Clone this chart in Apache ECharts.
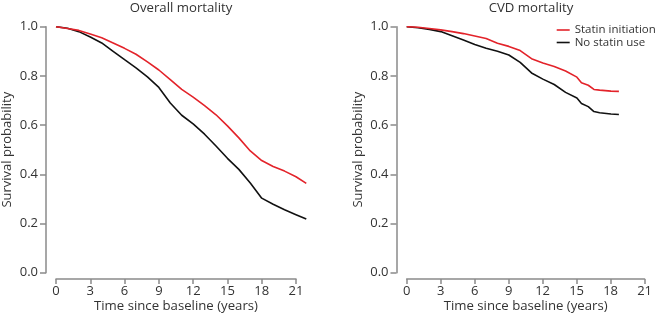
<!DOCTYPE html>
<html>
<head>
<meta charset="utf-8">
<script src="https://cdn.jsdelivr.net/npm/echarts@6/dist/echarts.min.js"></script>
<style>
  html, body { margin: 0; padding: 0; background: #fff; }
  #chart { width: 655px; height: 318px; }
</style>
</head>
<body>
<div id="chart"></div>
<script>
// Overall mortality (left panel)
const overallTime = [0, 1, 2, 3, 4, 5, 6, 7, 8, 9, 10, 11, 12, 13, 14, 15, 16, 17, 18, 19, 20, 21, 21.9];
const overallStatin = [1.0, 0.993, 0.985, 0.970, 0.955, 0.934, 0.912, 0.888, 0.857, 0.824, 0.785, 0.745, 0.714, 0.679, 0.642, 0.597, 0.548, 0.495, 0.456, 0.432, 0.413, 0.390, 0.363];
const overallNoStatin = [1.0, 0.994, 0.980, 0.958, 0.934, 0.900, 0.866, 0.833, 0.796, 0.753, 0.690, 0.640, 0.605, 0.563, 0.515, 0.465, 0.420, 0.365, 0.303, 0.278, 0.256, 0.236, 0.218];

// CVD mortality (right panel)
const cvdTime = [0, 1, 2, 3, 4, 5, 6, 7, 8, 9, 10, 11, 12, 13, 14, 15, 15.4, 16, 16.5, 17, 18, 18.7];
const cvdStatin = [1.0, 0.998, 0.993, 0.987, 0.980, 0.972, 0.962, 0.952, 0.933, 0.920, 0.903, 0.870, 0.852, 0.838, 0.820, 0.795, 0.772, 0.762, 0.745, 0.742, 0.738, 0.737];
const cvdNoStatin = [1.0, 0.996, 0.989, 0.980, 0.963, 0.946, 0.928, 0.912, 0.900, 0.885, 0.855, 0.812, 0.787, 0.765, 0.733, 0.710, 0.688, 0.675, 0.655, 0.650, 0.645, 0.643];

const xTicks = [0, 3, 6, 9, 12, 15, 18, 21];
const yTicks = [0, 0.2, 0.4, 0.6, 0.8, 1.0];
const seriesNames = ['Statin initiation', 'No statin use'];
const panelTitles = ['Overall mortality', 'CVD mortality'];

const RED = '#e3232a';
const BLACK = '#111111';
const AXIS = '#8a8a8a';
const TEXT = '#333333';
const FONT = 'Open Sans';

const xMin = xTicks[0];
const xMax = xTicks[xTicks.length - 1];
const yMin = yTicks[0];
const yMax = yTicks[yTicks.length - 1];

const pairs = (t, v) => t.map((x, i) => [x, v[i]]);

const chart = echarts.init(document.getElementById('chart'), null, { renderer: 'canvas' });

// R-style axes: y axis sits left of x=0, x axis sits below y=0,
// each spanning only its tick range; dataMax lets curves run past 21
const panels = [
  { plotLeft: 56, plotWidth: 240, axisLeft: 46, axisBottom: 282, titleX: 176, dataMax: 23 },
  { plotLeft: 406.7, plotWidth: 238.3, axisLeft: 396.5, axisBottom: 282.5, titleX: 526, dataMax: 20 }
];
const plotTop = 26.7;
const plotHeight = 246;

const grids = [];
const xAxes = [];
const yAxes = [];
const hidden = { show: false };

panels.forEach(p => {
  // y axis grid
  grids.push({ left: p.axisLeft, top: plotTop, width: 10, height: plotHeight });
  xAxes.push({ type: 'value', gridIndex: grids.length - 1, min: 0, max: 1, show: false });
  yAxes.push({
    type: 'value',
    gridIndex: grids.length - 1,
    min: yMin,
    max: yMax,
    interval: 0.2,
    name: 'Survival probability',
    nameLocation: 'middle',
    nameRotate: 90,
    nameGap: 32,
    nameMoveOverlap: false,
    nameTextStyle: { fontFamily: FONT, fontSize: 13, color: TEXT },
    axisLine: { show: true, lineStyle: { color: AXIS, width: 1.5 } },
    axisTick: { show: true, length: 6, lineStyle: { color: AXIS, width: 1.5 } },
    axisLabel: { margin: 8, fontFamily: FONT, fontSize: 13, color: TEXT, formatter: v => v.toFixed(1) },
    splitLine: hidden
  });

  // x axis grid
  grids.push({ left: p.plotLeft, top: p.axisBottom - plotHeight, width: p.plotWidth, height: plotHeight });
  xAxes.push({
    type: 'value',
    gridIndex: grids.length - 1,
    min: xMin,
    max: xMax,
    interval: 3,
    name: 'Time since baseline (years)',
    nameLocation: 'middle',
    nameGap: 21,
    nameMoveOverlap: false,
    nameTextStyle: { fontFamily: FONT, fontSize: 13.2, color: TEXT },
    axisLine: { show: true, lineStyle: { color: AXIS, width: 1.5 } },
    axisTick: { show: true, length: 5, lineStyle: { color: AXIS, width: 1.5 } },
    axisLabel: { margin: 6, fontFamily: FONT, fontSize: 13, color: TEXT },
    splitLine: hidden
  });
  yAxes.push({ type: 'value', gridIndex: grids.length - 1, min: 0, max: 1, show: false });

  // data grid
  grids.push({ left: p.plotLeft, top: plotTop, width: p.plotWidth * (p.dataMax - xMin) / (xMax - xMin), height: plotHeight });
  xAxes.push({ type: 'value', gridIndex: grids.length - 1, min: xMin, max: p.dataMax, show: false });
  yAxes.push({ type: 'value', gridIndex: grids.length - 1, min: yMin, max: yMax, show: false });
});

const makeLine = (name, data, color, idx) => ({
  name,
  type: 'line',
  xAxisIndex: idx,
  yAxisIndex: idx,
  data,
  showSymbol: false,
  symbol: 'none',
  lineStyle: { color, width: 1.6 },
  itemStyle: { color },
  animation: false
});

chart.setOption({
  backgroundColor: '#fff',
  textStyle: { fontFamily: FONT },
  title: panels.map((p, i) => ({
    text: panelTitles[i],
    left: p.titleX,
    top: -3,
    textAlign: 'center',
    textStyle: { fontFamily: FONT, fontSize: 13.2, fontWeight: 'normal', color: TEXT }
  })),
  legend: {
    orient: 'vertical',
    left: 556.7,
    top: 24,
    padding: 0,
    itemWidth: 13,
    itemHeight: 1.6,
    itemGap: 0.5,
    icon: 'rect',
    textStyle: { fontFamily: FONT, fontSize: 11.5, lineHeight: 12, color: TEXT },
    data: seriesNames
  },
  grid: grids,
  xAxis: xAxes,
  yAxis: yAxes,
  series: [
    makeLine(seriesNames[1], pairs(overallTime, overallNoStatin), BLACK, 2),
    makeLine(seriesNames[0], pairs(overallTime, overallStatin), RED, 2),
    makeLine(seriesNames[1], pairs(cvdTime, cvdNoStatin), BLACK, 5),
    makeLine(seriesNames[0], pairs(cvdTime, cvdStatin), RED, 5)
  ]
});
</script>
</body>
</html>
